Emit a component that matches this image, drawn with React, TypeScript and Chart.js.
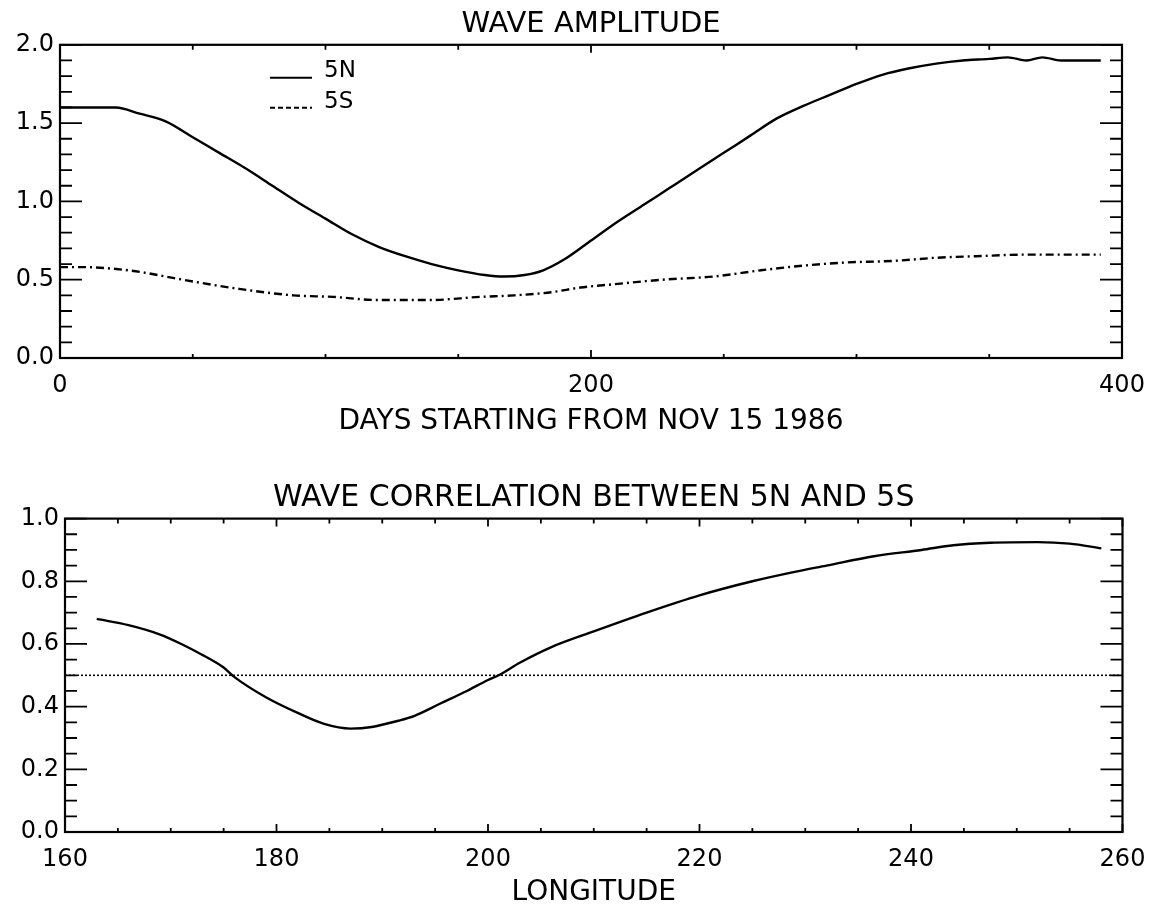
import React, { useEffect, useRef } from 'react';
import { Chart, registerables } from 'chart.js';

Chart.register(...registerables);

// ---------- DATA ----------
// Top panel: wave amplitude vs days since Nov 15 1986
const days5N = [0, 10, 21, 30, 40, 50, 60, 70, 80, 90, 100, 110, 120, 130, 140, 150, 160, 167, 175, 182, 190, 200, 210, 220, 230, 240, 250, 260, 270, 280, 290, 300, 310, 320, 330, 340, 350, 357, 364, 370, 377, 385, 392];
const amp5N = [1.60, 1.60, 1.60, 1.56, 1.51, 1.41, 1.31, 1.21, 1.10, 0.99, 0.89, 0.79, 0.71, 0.65, 0.60, 0.56, 0.53, 0.52, 0.53, 0.56, 0.63, 0.75, 0.87, 0.98, 1.09, 1.20, 1.31, 1.42, 1.53, 1.61, 1.68, 1.75, 1.81, 1.85, 1.88, 1.90, 1.91, 1.92, 1.90, 1.92, 1.90, 1.90, 1.90];
const days5S = [0, 10, 20, 30, 43, 53, 68, 88, 103, 120, 139, 158, 171, 185, 196, 208, 227, 246, 264, 280, 296, 314, 330, 345, 364, 380, 392];
const amp5S = [0.58, 0.58, 0.57, 0.55, 0.51, 0.48, 0.44, 0.40, 0.39, 0.37, 0.37, 0.39, 0.40, 0.42, 0.45, 0.47, 0.50, 0.52, 0.56, 0.59, 0.61, 0.62, 0.64, 0.65, 0.66, 0.66, 0.66];
const ampXMajor = [0, 200, 400];
const ampYMajor = [0, 0.5, 1.0, 1.5, 2.0];
const ampSeriesNames = ['5N', '5S'];

// Bottom panel: wave correlation vs longitude
const longitudes = [163, 166, 169, 171, 173, 175, 176, 179, 182, 184.5, 187, 189, 191.5, 193, 195.5, 198, 200, 201, 203, 206, 210, 215, 220, 225, 229, 232, 236.5, 241, 244, 247.5, 252, 255, 258];
const correlation = [0.68, 0.66, 0.63, 0.60, 0.565, 0.525, 0.495, 0.43, 0.38, 0.345, 0.33, 0.335, 0.355, 0.37, 0.41, 0.45, 0.485, 0.50, 0.54, 0.59, 0.64, 0.70, 0.755, 0.80, 0.83, 0.85, 0.88, 0.90, 0.915, 0.923, 0.925, 0.92, 0.905];
const corrRefLevel = 0.5;
const corrXMajor = [160, 180, 200, 220, 240, 260];
const corrYMajor = [0, 0.2, 0.4, 0.6, 0.8, 1.0];

// ---------- STYLE ----------
const FONT = "'DejaVu Sans', sans-serif";
const INK = '#000';

const isMajor = (list: number[], v: number) => list.some((m) => Math.abs(m - v) < 1e-6);

// Inward tick marks + frame, drawn from the chart's own scales
const frameTicks = {
  id: 'frameTicks',
  afterDatasetsDraw(chart: any, _args: any, opts: any) {
    const { ctx, chartArea: a, scales } = chart;
    const xs = scales.x;
    const ys = scales.y;
    ctx.save();
    ctx.strokeStyle = INK;
    ctx.lineWidth = 2.2;
    ctx.setLineDash([]);
    ctx.strokeRect(a.left, a.top, a.right - a.left, a.bottom - a.top);
    ctx.lineWidth = 1.8;
    ctx.beginPath();
    xs.ticks.forEach((t: any) => {
      const p = xs.getPixelForValue(t.value);
      const maj = isMajor(opts.xMajor, t.value);
      const lb = maj ? 8 : 4;
      const lt = maj ? 8 : 5;
      ctx.moveTo(p, a.bottom);
      ctx.lineTo(p, a.bottom - lb);
      ctx.moveTo(p, a.top);
      ctx.lineTo(p, a.top + lt);
    });
    ys.ticks.forEach((t: any) => {
      const p = ys.getPixelForValue(t.value);
      const maj = isMajor(opts.yMajor, t.value);
      const l = maj ? 22 : 12;
      ctx.moveTo(a.left, p);
      ctx.lineTo(a.left + l, p);
      ctx.moveTo(a.right, p);
      ctx.lineTo(a.right - l, p);
    });
    ctx.stroke();
    ctx.restore();
  },
};

// In-plot legend for the amplitude panel
const innerLegend = {
  id: 'innerLegend',
  afterDraw(chart: any, _args: any, opts: any) {
    if (!opts || !opts.show) return;
    const { ctx, chartArea: a } = chart;
    const items = chart.data.datasets.filter((d: any) => d.label);
    ctx.save();
    ctx.font = `23px ${FONT}`;
    ctx.fillStyle = INK;
    ctx.textBaseline = 'middle';
    ctx.textAlign = 'left';
    items.forEach((d: any, i: number) => {
      const lineY = a.top + 33 + i * 30;
      const textY = a.top + 26 + i * 31;
      ctx.strokeStyle = INK;
      ctx.lineWidth = 2;
      ctx.setLineDash(i === 0 ? [] : [5, 3]);
      ctx.beginPath();
      ctx.moveTo(a.left + 210, lineY);
      ctx.lineTo(a.left + 252, lineY);
      ctx.stroke();
      ctx.setLineDash([]);
      ctx.fillText(d.label, a.left + 264, textY);
    });
    ctx.restore();
  },
};

function buildAmplitude(canvas: HTMLCanvasElement) {
  return new Chart(canvas, {
    type: 'line',
    data: {
      datasets: [
        {
          label: ampSeriesNames[0],
          data: days5N.map((d, i) => ({ x: d, y: amp5N[i] })),
          borderColor: INK,
          borderWidth: 2.4,
          pointRadius: 0,
          cubicInterpolationMode: 'monotone',
          fill: false,
        },
        {
          label: ampSeriesNames[1],
          data: days5S.map((d, i) => ({ x: d, y: amp5S[i] })),
          borderColor: INK,
          borderWidth: 2.4,
          borderDash: [8, 4, 2, 4],
          pointRadius: 0,
          cubicInterpolationMode: 'monotone',
          fill: false,
        },
      ],
    },
    options: {
      animation: false,
      responsive: false,
      layout: { padding: { left: 0, right: 37, top: 0, bottom: 0 } },
      plugins: {
        legend: { display: false },
        tooltip: { enabled: false },
        title: {
          display: true,
          fullSize: false,
          text: 'WAVE AMPLITUDE',
          color: INK,
          font: { family: FONT, size: 29, weight: 'normal', lineHeight: 1.2 },
          padding: { top: 7, bottom: 3 },
        },
        frameTicks: { xMajor: ampXMajor, yMajor: ampYMajor },
        innerLegend: { show: true },
      } as any,
      scales: {
        x: {
          type: 'linear',
          min: 0,
          max: 400,
          grid: { display: false, drawTicks: false },
          border: { display: false },
          ticks: {
            stepSize: 50,
            autoSkip: false,
            maxRotation: 0,
            padding: 13,
            color: INK,
            font: { family: FONT, size: 24 },
            callback: (v: any) => (isMajor(ampXMajor, Number(v)) ? String(v) : ''),
          },
          title: {
            display: true,
            text: 'DAYS STARTING FROM NOV 15 1986',
            color: INK,
            font: { family: FONT, size: 28, lineHeight: 1.2 },
            padding: { top: 0, bottom: 13 },
          },
          afterFit: (s: any) => {
            s.height = 94;
          },
        },
        y: {
          type: 'linear',
          min: 0,
          max: 2.0,
          grid: { display: false, drawTicks: false },
          border: { display: false },
          ticks: {
            stepSize: 0.1,
            autoSkip: false,
            padding: 6,
            color: INK,
            font: { family: FONT, size: 24 },
            callback: (v: any) => (isMajor(ampYMajor, Number(v)) ? Number(v).toFixed(1) : ''),
          },
          afterFit: (s: any) => {
            s.width = 60;
          },
        },
      },
    } as any,
    plugins: [frameTicks, innerLegend],
  });
}

function buildCorrelation(canvas: HTMLCanvasElement) {
  return new Chart(canvas, {
    type: 'line',
    data: {
      datasets: [
        {
          data: longitudes.map((x, i) => ({ x, y: correlation[i] })),
          borderColor: INK,
          borderWidth: 2.4,
          pointRadius: 0,
          cubicInterpolationMode: 'monotone',
          fill: false,
        },
        {
          data: [
            { x: corrXMajor[0], y: corrRefLevel },
            { x: corrXMajor[corrXMajor.length - 1], y: corrRefLevel },
          ],
          borderColor: INK,
          borderWidth: 1.6,
          borderDash: [2, 2],
          pointRadius: 0,
          fill: false,
        },
      ],
    },
    options: {
      animation: false,
      responsive: false,
      layout: { padding: { left: 0, right: 32, top: 0, bottom: 0 } },
      plugins: {
        legend: { display: false },
        tooltip: { enabled: false },
        title: {
          display: true,
          fullSize: false,
          text: 'WAVE CORRELATION BETWEEN 5N AND 5S',
          color: INK,
          font: { family: FONT, size: 30, weight: 'normal', lineHeight: 1.2 },
          padding: { top: 28, bottom: 2.6 },
        },
        frameTicks: { xMajor: corrXMajor, yMajor: corrYMajor },
        innerLegend: { show: false },
      } as any,
      scales: {
        x: {
          type: 'linear',
          min: 160,
          max: 260,
          grid: { display: false, drawTicks: false },
          border: { display: false },
          ticks: {
            stepSize: 5,
            autoSkip: false,
            maxRotation: 0,
            padding: 13.6,
            color: INK,
            font: { family: FONT, size: 24 },
            callback: (v: any) => (isMajor(corrXMajor, Number(v)) ? String(v) : ''),
          },
          title: {
            display: true,
            text: 'LONGITUDE',
            color: INK,
            font: { family: FONT, size: 28, lineHeight: 1.2 },
            padding: { top: 0, bottom: 12.2 },
          },
          afterFit: (s: any) => {
            s.height = 90;
          },
        },
        y: {
          type: 'linear',
          min: 0,
          max: 1.0,
          grid: { display: false, drawTicks: false },
          border: { display: false },
          ticks: {
            stepSize: 0.05,
            autoSkip: false,
            padding: 6,
            color: INK,
            font: { family: FONT, size: 24 },
            callback: (v: any) => (isMajor(corrYMajor, Number(v)) ? Number(v).toFixed(1) : ''),
          },
          afterFit: (s: any) => {
            s.width = 65;
          },
        },
      },
    } as any,
    plugins: [frameTicks, innerLegend],
  });
}

function ChartCanvas({ build, top, width, height }: { build: (c: HTMLCanvasElement) => Chart; top: number; width: number; height: number }) {
  const ref = useRef<HTMLCanvasElement>(null);
  useEffect(() => {
    if (!ref.current) return;
    const chart = build(ref.current);
    return () => chart.destroy();
  }, [build]);
  return (
    <canvas
      ref={ref}
      width={width}
      height={height}
      style={{ position: 'absolute', left: 0, top, width, height, display: 'block' }}
    />
  );
}

export default function App() {
  return (
    <div
      style={{
        position: 'fixed',
        left: 0,
        top: 0,
        width: 1159,
        height: 904,
        overflow: 'hidden',
        background: '#fff',
      }}
    >
      <ChartCanvas build={buildAmplitude} top={0} width={1159} height={452} />
      <ChartCanvas build={buildCorrelation} top={452} width={1159} height={470} />
    </div>
  );
}
